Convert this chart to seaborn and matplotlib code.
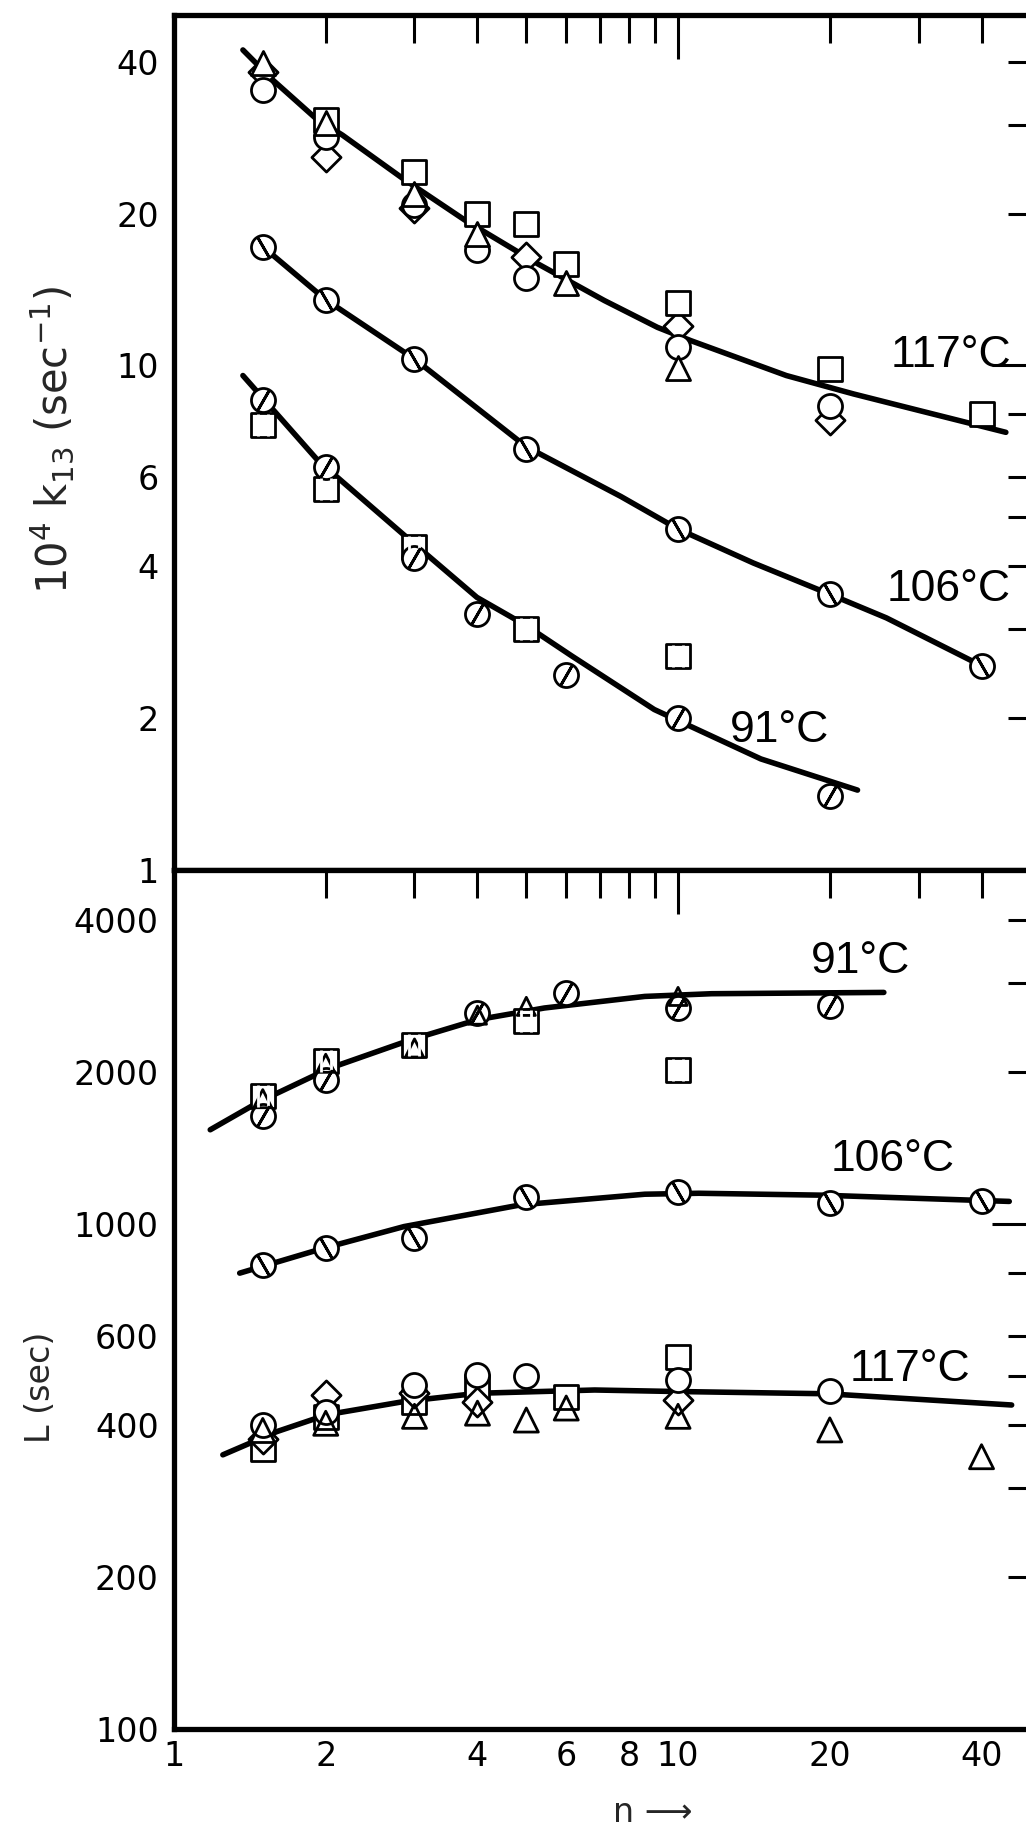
import pandas as pd
import seaborn as sns
import matplotlib.pyplot as plt
from matplotlib.path import Path

# ---- top panel: 10^4 k13 (sec^-1) vs n ----
k117_circ_n = [1.5, 2, 3, 4, 5, 10, 20]
k117_circ = [35.1, 28.4, 20.8, 16.9, 14.9, 10.9, 8.3]
k117_sq_n = [2, 3, 4, 5, 6, 10, 20, 40]
k117_sq = [30.6, 24.2, 20.0, 19.1, 15.9, 13.3, 9.85, 8.0]
k117_tri_n = [1.5, 2, 3, 4, 6, 10]
k117_tri = [39.7, 30.2, 21.9, 18.2, 14.6, 9.9]
k117_dia_n = [1.5, 2, 3, 5, 10, 20]
k117_dia = [38.2, 25.9, 20.5, 16.4, 12.0, 7.8]

k106_n = [1.5, 2, 3, 5, 10, 20, 40]
k106 = [17.2, 13.5, 10.3, 6.83, 4.74, 3.52, 2.54]

k91_circ_n = [1.5, 2, 3, 4, 6, 10, 20]
k91_circ = [8.55, 6.28, 4.16, 3.21, 2.43, 2.0, 1.40]
k91_sq_n = [1.5, 2, 3, 5, 10]
k91_sq = [7.63, 5.69, 4.36, 3.0, 2.66]

# hand-drawn curves
k117_curve_n = [1.37, 1.57, 1.91, 2.16, 2.84, 3.78, 5.27, 7.14, 9.1, 10.6, 16.4, 22.3, 30.1, 44.7]
k117_curve = [42.2, 36.8, 30.9, 28.6, 23.5, 19.4, 15.9, 13.45, 11.9, 11.2, 9.55, 8.78, 8.14, 7.37]
k106_curve_n = [1.5, 2, 3, 5, 7.7, 10, 14.1, 20, 25.9, 40]
k106_curve = [17.2, 13.5, 10.3, 6.9, 5.5, 4.74, 4.06, 3.52, 3.16, 2.54]
k91_curve_n = [1.37, 1.93, 2.92, 3.99, 5.0, 6.14, 8.97, 14.6, 22.7]
k91_curve = [9.55, 6.48, 4.53, 3.47, 3.05, 2.66, 2.08, 1.66, 1.44]

# ---- bottom panel: L (sec) vs n ----
L117_circ_n = [1.5, 2, 3, 4, 5, 10, 20]
L117_circ = [400, 425, 480, 502, 499, 491, 466]
L117_sq_n = [1.5, 2, 3, 4, 6, 10]
L117_sq = [358, 415, 445, 476, 455, 546]
L117_tri_n = [1.5, 2, 3, 4, 5, 6, 10, 20, 40]
L117_tri = [390, 403, 416, 422, 409, 432, 416, 391, 346]
L117_dia_n = [1.5, 2, 3, 4, 10]
L117_dia = [375, 459, 462, 445, 448]

L106_n = [1.5, 2, 3, 5, 10, 20, 40]
L106 = [830, 895, 937, 1133, 1159, 1100, 1108]

L91_circ_n = [1.5, 2, 4, 6, 10, 20]
L91_circ = [1632, 1929, 2615, 2864, 2676, 2696]
L91_sq_n = [1.5, 2, 3, 5, 10]
L91_sq = [1788, 2097, 2263, 2518, 2020]
L91_tri_n = [1.5, 2, 3, 4, 5, 10]
L91_tri = [1770, 2080, 2230, 2590, 2696, 2821]

L117_curve_n = [1.25, 1.6, 2.01, 2.86, 4.0, 6.83, 9.67, 19.8, 45.9]
L117_curve = [349, 388, 419, 445, 462, 469, 466, 461, 438]
L106_curve_n = [1.35, 1.98, 2.86, 4.88, 8.59, 11, 19.3, 45.4]
L106_curve = [799, 895, 988, 1091, 1145, 1150, 1140, 1108]
L91_curve_n = [1.18, 1.48, 2.04, 2.95, 4.0, 5.43, 8.59, 11.65, 25.6]
L91_curve = [1536, 1748, 2035, 2315, 2537, 2676, 2821, 2856, 2873]

sns.set_theme(style="white")
plt.rcParams["font.family"] = ["DejaVu Sans"]

W, H = 1026, 1828
fig = plt.figure(figsize=(W / 100, H / 100), dpi=100)
left, right = 174, 1036
ax_top = fig.add_axes([left / W, (H - 870) / H, (right - left) / W, 855 / H])
ax_bot = fig.add_axes([left / W, (H - 1729) / H, (right - left) / W, 859 / H])

bars = Path([(-0.22, -0.5), (-0.22, 0.5), (0.22, -0.5), (0.22, 0.5)],
            [Path.MOVETO, Path.LINETO, Path.MOVETO, Path.LINETO])
SLASH = (2, 2, -30)
BACKSLASH = (2, 2, 30)


def pts(ax, n, y, marker, s=300, face="white", z=3):
    sns.scatterplot(x=n, y=y, ax=ax, marker=marker, s=s, facecolor=face,
                    edgecolor="black", linewidth=2.0, zorder=z, legend=False)


def overlay(ax, n, y, marker, s=240):
    sns.scatterplot(x=n, y=y, ax=ax, marker=marker, s=s, color="black",
                    linewidth=2.0, zorder=5, legend=False)


def curve(ax, n, y):
    sns.lineplot(x=n, y=y, ax=ax, sort=False, estimator=None, color="black",
                 lw=4.0, zorder=2, solid_capstyle="round", solid_joinstyle="round")


for ax in (ax_top, ax_bot):
    ax.set_xscale("log")
    ax.set_yscale("log")

# top panel
curve(ax_top, k117_curve_n, k117_curve)
curve(ax_top, k106_curve_n, k106_curve)
curve(ax_top, k91_curve_n, k91_curve)
pts(ax_top, k117_dia_n, k117_dia, "D", s=220)
pts(ax_top, k117_sq_n, k117_sq, "s")
pts(ax_top, k117_circ_n, k117_circ, "o")
pts(ax_top, k117_tri_n, k117_tri, "^")
pts(ax_top, k106_n, k106, "o")
overlay(ax_top, k106_n, k106, BACKSLASH)
pts(ax_top, k91_sq_n, k91_sq, "s")
overlay(ax_top, k91_sq_n, k91_sq, bars, s=250)
pts(ax_top, k91_circ_n, k91_circ, "o")
overlay(ax_top, k91_circ_n, k91_circ, SLASH)

# bottom panel
curve(ax_bot, L117_curve_n, L117_curve)
curve(ax_bot, L106_curve_n, L106_curve)
curve(ax_bot, L91_curve_n, L91_curve)
pts(ax_bot, L117_sq_n, L117_sq, "s")
pts(ax_bot, L117_dia_n, L117_dia, "D", s=220)
pts(ax_bot, L117_circ_n, L117_circ, "o")
pts(ax_bot, L117_tri_n, L117_tri, "^", face="none", z=4)
pts(ax_bot, L106_n, L106, "o")
overlay(ax_bot, L106_n, L106, BACKSLASH)
pts(ax_bot, L91_sq_n, L91_sq, "s")
overlay(ax_bot, L91_sq_n, L91_sq, bars, s=250)
pts(ax_bot, L91_tri_n, L91_tri, "^", s=170, face="none", z=4)
pts(ax_bot, L91_circ_n, L91_circ, "o")
overlay(ax_bot, L91_circ_n, L91_circ, SLASH)

# temperature labels
lab = dict(ha="center", va="center", fontsize=32, family="Liberation Sans", color="black")
ax_top.text(34.8, 10.46, "117°C", **lab)
ax_top.text(34.4, 3.60, "106°C", **lab)
ax_top.text(15.9, 1.89, "91°C", **lab)
ax_bot.text(23.0, 3311, "91°C", **lab)
ax_bot.text(26.6, 1340, "106°C", **lab)
ax_bot.text(28.8, 515, "117°C", **lab)

x_minor = [2, 3, 4, 5, 6, 7, 8, 9, 20, 30, 40]
x_minor_labels = ["2", "", "4", "", "6", "", "8", "", "20", "", "40"]

for ax in (ax_top, ax_bot):
    ax.set_xlim(1, 51.3)
    ax.set_xticks([1, 10], labels=["1", "10"])
    ax.set_xticks(x_minor, labels=x_minor_labels, minor=True)
    ax.set_xlabel("")
    ax.set_ylabel("")
    for sp in ax.spines.values():
        sp.set_visible(True)
        sp.set_linewidth(3.8)
        sp.set_color("black")
    ax.tick_params(which="both", direction="in", top=True, right=True,
                   width=2.2, color="black", labelsize=24, labelcolor="black")
    ax.tick_params(which="major", length=32)
    ax.tick_params(which="minor", length=20)
    ax.tick_params(axis="y", which="both", pad=11)
    ax.tick_params(axis="x", which="both", pad=8)
    ax.grid(False)

ax_top.set_ylim(1, 49.5)
ax_top.set_yticks([1, 10], labels=["1", "10"])
ax_top.set_yticks([2, 3, 4, 5, 6, 8, 20, 30, 40],
                  labels=["2", "", "4", "", "6", "", "20", "", "40"], minor=True)
ax_top.tick_params(axis="x", which="both", labelbottom=False)

ax_bot.set_ylim(100, 5020)
ax_bot.set_yticks([100, 1000], labels=["100", "1000"])
ax_bot.set_yticks([200, 300, 400, 500, 600, 800, 2000, 3000, 4000],
                  labels=["200", "", "400", "", "600", "", "2000", "", "4000"], minor=True)

fig.text(52 / W, 1 - 440 / H, "10$^{4}$ k$_{13}$ (sec$^{-1}$)", rotation=90,
         ha="center", va="center", fontsize=30)
fig.text(41 / W, 1 - 1387 / H, "L (sec)", rotation=90, ha="center", va="center",
         fontsize=24)
fig.text(653 / W, 1 - 1812 / H, "n ⟶", ha="center", va="center", fontsize=24)

fig.savefig("out.png", dpi=100)
